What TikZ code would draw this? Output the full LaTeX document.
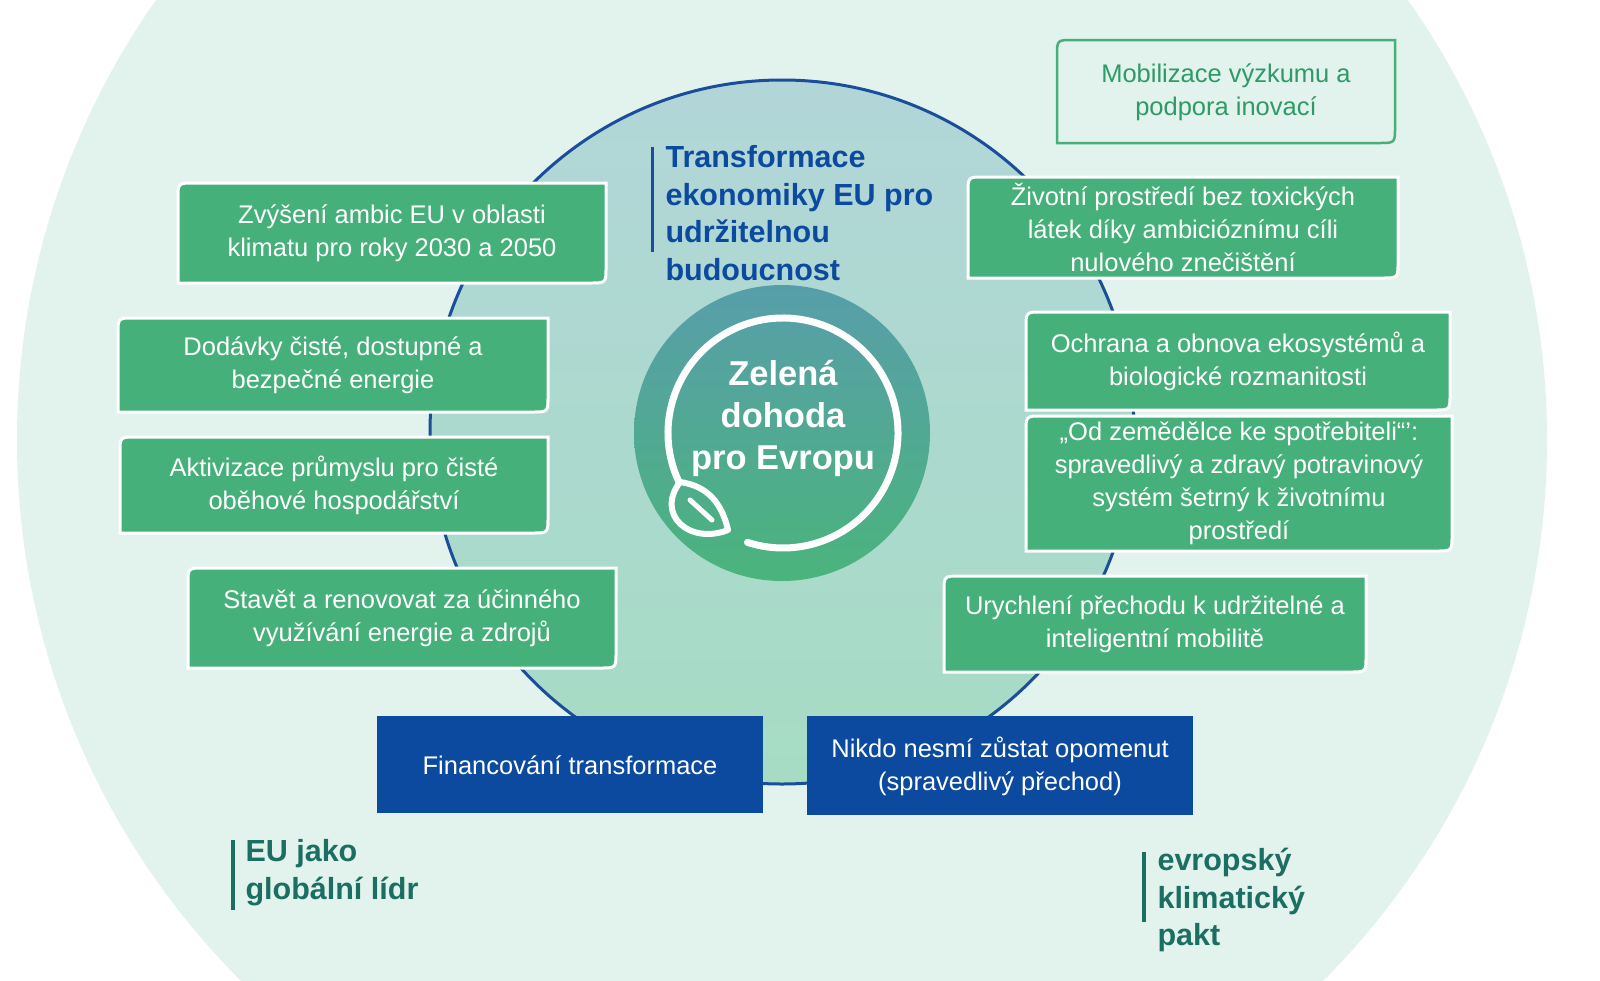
\documentclass[tikz,border=0pt]{standalone}
\usepackage{fontspec}
\setmainfont{Liberation Sans}
\definecolor{boxgreen}{HTML}{45B07A}
\definecolor{euBlue}{HTML}{0B4A9E}
\definecolor{ringBlue}{HTML}{1A4E9A}
\definecolor{tealT}{HTML}{1B6E62}
\definecolor{outerBg}{RGB}{226,242,236}
\definecolor{midTop}{RGB}{178,214,216}
\definecolor{midBot}{RGB}{166,220,196}
\definecolor{inTop}{RGB}{88,158,170}
\definecolor{inBot}{RGB}{74,180,124}
\definecolor{outlineText}{RGB}{46,154,102}
\begin{document}
\begin{tikzpicture}[x=1pt,y=-1pt,
  gtext/.style={text=white,align=center,font=\fontsize{25.5}{33}\selectfont},
  ttext/.style={align=left,anchor=north west,font=\bfseries\fontsize{30.5}{37.5}\selectfont},
  gfill/.style={fill=boxgreen,draw=white,line width=3pt}]
\useasboundingbox (0,0) rectangle (1600,980);
\fill[white] (0,0) rectangle (1600,980);
\begin{scope}
\clip (0,0) rectangle (1600,980);
\fill[outerBg] (782,440) circle (765);
\end{scope}
\shade[top color=midTop, bottom color=midBot] (782,432) circle (352);
\draw[ringBlue,line width=3pt] (782,432) circle (352);
\shade[top color=inTop, bottom color=inBot] (782,433) circle (148);
\draw[white,line width=7pt,line cap=round] (783,433) ++(155:115) arc[start angle=155,end angle=468,radius=115];
% leaf
\draw[white,line width=6pt,line join=round] (680,482) .. controls (655,515) and (690,545) .. (728,530) .. controls (720,495) and (700,485) .. cycle;
\draw[white,line width=5pt,line cap=round] (690,500) -- (712,520);
\node[text=white,align=center,font=\bfseries\fontsize{34.5}{42}\selectfont] (center) at (783,418) {Zelená\\dohoda\\pro Evropu};
% green boxes
\newcommand\gbox[6]{%
  \draw[gfill] (#2,#3+16) .. controls (#2,#3) .. (#2+16,#3) -- (#4,#3) -- (#4,#5-16) .. controls (#4,#5) .. (#4-16,#5) -- (#2,#5) -- cycle;
  \node[gtext] (#1) at ({(#2+#4)/2},{(#3+#5)/2}) {#6};}
\gbox{b1}{178}{183}{606}{283}{Zvýšení ambic EU v oblasti\\klimatu pro roky 2030 a 2050}
\gbox{b2}{118}{318}{548}{412}{Dodávky čisté, dostupné a\\bezpečné energie}
\gbox{b3}{120}{437}{548}{533}{Aktivizace průmyslu pro čisté\\oběhové hospodářství}
\gbox{b4}{188}{568}{616}{668}{Stavět a renovovat za účinného\\využívání energie a zdrojů}
\gbox{b5}{968}{177}{1398}{278}{Životní prostředí bez toxických\\látek díky ambicióznímu cíli\\nulového znečištění}
\gbox{b6}{1026}{312}{1450}{410}{Ochrana a obnova ekosystémů a\\biologické rozmanitosti}
\gbox{b7}{1026}{416}{1452}{551}{„Od zemědělce ke spotřebiteli“’:\\spravedlivý a zdravý potravinový\\systém šetrný k životnímu\\prostředí}
\gbox{b8}{944}{576}{1366}{672}{Urychlení přechodu k udržitelné a\\inteligentní mobilitě}
% outlined box
\draw[boxgreen,line width=2.5pt] (1057,56) .. controls (1057,40) .. (1073,40) -- (1395,40) -- (1395,127) .. controls (1395,143) .. (1379,143) -- (1057,143) -- cycle;
\node[gtext,text=outlineText] (b9) at (1226,92) {Mobilizace výzkumu a\\podpora inovací};
% blue boxes
\fill[euBlue] (377,716) rectangle (763,813);
\node[gtext] (f1) at (570,765) {Financování transformace};
\fill[euBlue] (807,716) rectangle (1193,815);
\node[gtext] (f2) at (1000,766) {Nikdo nesmí zůstat opomenut\\(spravedlivý přechod)};
% titles
\draw[ringBlue,line width=3pt] (652,147) -- (652,252);
\node[ttext,text=euBlue] (t1) at (662,142) {Transformace\\ekonomiky EU pro\\udržitelnou\\budoucnost};
\draw[tealT,line width=3.5pt] (233,840) -- (233,910);
\node[ttext,text=tealT] (t2) at (242,836) {EU jako\\globální lídr};
\draw[tealT,line width=3.5pt] (1144,852) -- (1144,922);
\node[ttext,text=tealT] (t3) at (1154,845) {evropský\\klimatický\\pakt};
\end{tikzpicture}
\end{document}
